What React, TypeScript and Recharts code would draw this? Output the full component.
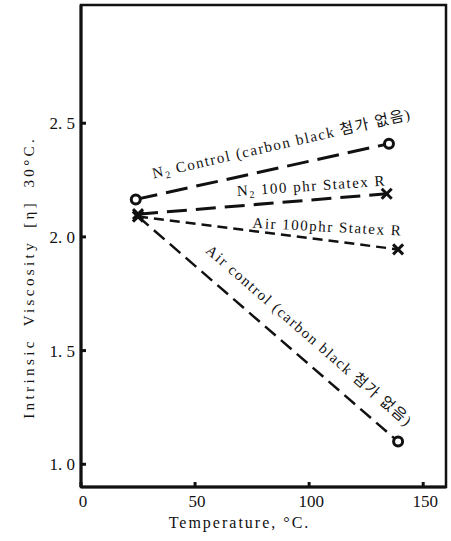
import React from "react";
import {
  LineChart,
  Line,
  XAxis,
  YAxis,
  ReferenceArea,
  ReferenceDot,
} from "recharts";

// Temperature (°C) vs intrinsic viscosity
const n2Control = [
  { t: 24, v: 2.165 },
  { t: 135, v: 2.41 },
];
const n2Statex = [
  { t: 25, v: 2.1 },
  { t: 134, v: 2.19 },
];
const airStatex = [
  { t: 25, v: 2.09 },
  { t: 139, v: 1.945 },
];
const airControl = [
  { t: 25, v: 2.09 },
  { t: 139, v: 1.1 },
];

const xTicks = [0, 50, 100, 150];
const yTicks = [1.0, 1.5, 2.0, 2.5];

// label anchors (data coords) + rotation
const seriesLabels = [
  { id: "n2c", t: 88, v: 2.41, angle: -13, parts: ["N", "2", " Control (carbon black 첨가 없음)"] },
  { id: "n2s", t: 101, v: 2.225, angle: -4, parts: ["N", "2", " 100 phr Statex R"] },
  { id: "airs", t: 108, v: 2.045, angle: 3, parts: ["Air 100phr Statex R"] },
  { id: "airc", t: 100, v: 1.565, angle: 41, parts: ["Air control (carbon black 첨가 없음)"] },
];

const FONT = "'Liberation Serif', 'DejaVu Serif', 'Noto Sans CJK KR', serif";
const INK = "#111";

const CircleDot = (props: any) => {
  const { cx, cy, index } = props;
  return (
    <circle key={index} cx={cx} cy={cy} r={4.5} fill="#fff" stroke={INK} strokeWidth={3} />
  );
};

const CrossDot = (props: any) => {
  const { cx, cy, index } = props;
  const s = 5;
  return (
    <g key={index}>
      <line x1={cx - s} y1={cy - s} x2={cx + s} y2={cy + s} stroke={INK} strokeWidth={3} />
      <line x1={cx - s} y1={cy + s} x2={cx + s} y2={cy - s} stroke={INK} strokeWidth={3} />
    </g>
  );
};

const YTick = (props: any) => {
  const { x, y, payload } = props;
  const s = Number(payload.value).toFixed(1).replace(".", ".\u00a0");
  return (
    <g>
      <line x1={x} x2={x + 5} y1={y} y2={y} stroke={INK} strokeWidth={3} />
      <text x={x - 6} y={y} dy={6} textAnchor="end" fontSize={17} fontFamily={FONT} fill={INK}>
        {s}
      </text>
    </g>
  );
};

const XTick = (props: any) => {
  const { x, y, payload } = props;
  return (
    <g>
      <line x1={x} x2={x} y1={y} y2={y - 5} stroke={INK} strokeWidth={3} />
      <text x={x + 2} y={y + 20} textAnchor="middle" fontSize={17} fontFamily={FONT} fill={INK}>
        {payload.value}
      </text>
    </g>
  );
};

const SeriesLabel = ({ parts, angle }: { parts: string[]; angle: number }) => (props: any) => {
  const vb = props.viewBox || {};
  const cx = vb.cx ?? vb.x;
  const cy = vb.cy ?? vb.y;
  return (
    <text
      x={cx}
      y={cy}
      dy={5}
      textAnchor="middle"
      fontSize={15}
      letterSpacing={1.5}
      fontFamily={FONT}
      fill={INK}
      transform={`rotate(${angle}, ${cx}, ${cy})`}
    >
      {parts.length === 3 ? (
        <>
          <tspan>{parts[0]}</tspan>
          <tspan fontSize={10} dy={3}>{parts[1]}</tspan>
          <tspan dy={-3}>{parts[2]}</tspan>
        </>
      ) : (
        parts[0]
      )}
    </text>
  );
};

export default function App() {
  return (
    <div style={{ position: "absolute", left: 0, top: 0, background: "#fff" }}>
      <LineChart
        width={451}
        height={541}
        margin={{ top: 5, right: 5, left: 0, bottom: 0 }}
      >
        <XAxis
          type="number"
          dataKey="t"
          domain={[0, 160]}
          ticks={xTicks}
          allowDataOverflow
          height={54}
          tickSize={0}
          tickMargin={0}
          tickLine={false}
          tick={<XTick />}
          axisLine={{ stroke: INK, strokeWidth: 3 }}
          label={(p: any) => {
            const vb = p.viewBox;
            return (
              <text
                x={vb.x + vb.width / 2 - 24}
                y={vb.y + 41}
                textAnchor="middle"
                fontSize={16}
                letterSpacing={2}
                fontFamily={FONT}
                fill={INK}
              >
                Temperature, °C.
              </text>
            );
          }}
        />
        <YAxis
          type="number"
          dataKey="v"
          domain={[0.9, 3.02]}
          ticks={yTicks}
          allowDataOverflow
          width={81}
          tickSize={0}
          tickMargin={0}
          tickLine={false}
          tick={<YTick />}
          axisLine={{ stroke: INK, strokeWidth: 3 }}
          label={(p: any) => {
            const vb = p.viewBox;
            const cx = 34;
            const cy = vb.y + vb.height * 0.565;
            return (
              <text
                x={cx}
                y={cy}
                textAnchor="middle"
                fontSize={15}
                letterSpacing={3.4}
                wordSpacing={5}
                fontFamily={FONT}
                fill={INK}
                transform={`rotate(-90, ${cx}, ${cy})`}
              >
                Intrinsic Viscosity [η] 30°C.
              </text>
            );
          }}
        />
        <ReferenceArea
          x1={0}
          x2={160}
          y1={0.9}
          y2={3.02}
          fill="none"
          stroke={INK}
          strokeWidth={2.5}
        />
        <Line
          data={n2Control}
          dataKey="v"
          type="linear"
          stroke={INK}
          strokeWidth={3}
          strokeDasharray="22 9"
          dot={<CircleDot />}
          isAnimationActive={false}
        />
        <Line
          data={n2Statex}
          dataKey="v"
          type="linear"
          stroke={INK}
          strokeWidth={3}
          strokeDasharray="20 9"
          dot={<CrossDot />}
          isAnimationActive={false}
        />
        <Line
          data={airStatex}
          dataKey="v"
          type="linear"
          stroke={INK}
          strokeWidth={2.5}
          strokeDasharray="10 6"
          dot={<CrossDot />}
          isAnimationActive={false}
        />
        <Line
          data={airControl}
          dataKey="v"
          type="linear"
          stroke={INK}
          strokeWidth={2.5}
          strokeDasharray="14 7"
          dot={(p: any) =>
            p.index === 0 ? <CrossDot {...p} key={p.index} /> : <CircleDot {...p} key={p.index} />
          }
          isAnimationActive={false}
        />
        {seriesLabels.map((l) => (
          <ReferenceDot
            key={l.id}
            x={l.t}
            y={l.v}
            r={0}
            fill="none"
            stroke="none"
            label={SeriesLabel({ parts: l.parts, angle: l.angle })}
          />
        ))}
      </LineChart>
    </div>
  );
}
